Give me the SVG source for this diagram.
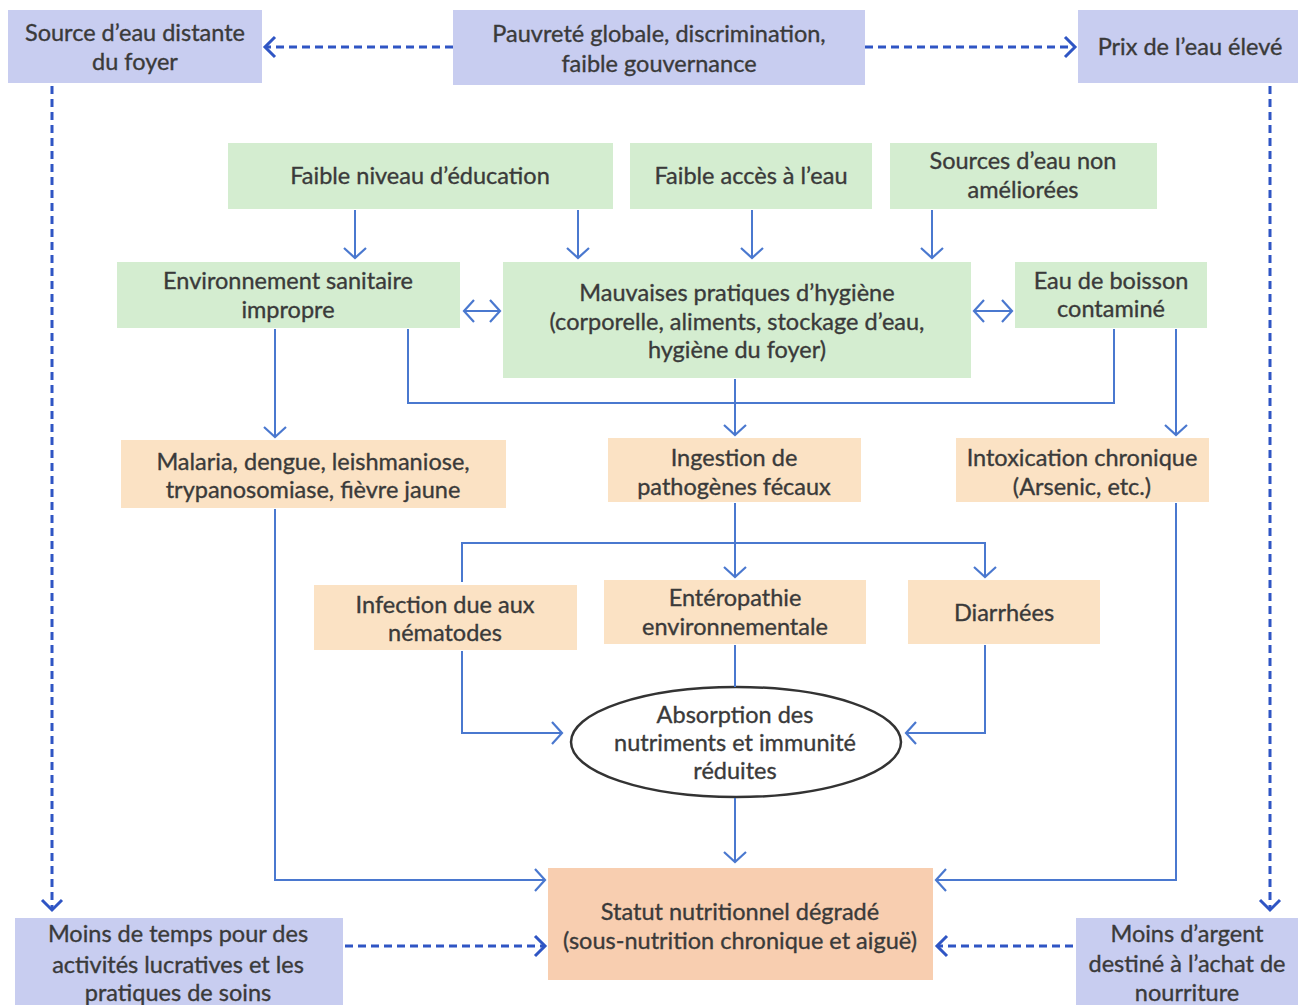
<svg xmlns="http://www.w3.org/2000/svg" width="1298" height="1005" viewBox="0 0 1298 1005">
<style>
text{font-family:Lato,"Liberation Sans",sans-serif;font-size:23.5px;fill:#3a3a3a;stroke:#3a3a3a;stroke-width:0.35;text-anchor:middle}
.p{fill:#c8cdf0}
.g{fill:#d4edd0}
.o{fill:#fbe2c4}
.s{fill:#f8ceb0}
.c{fill:none;stroke:#4a78cf;stroke-width:2}
.d{fill:none;stroke:#2f55c4;stroke-width:3;stroke-dasharray:8 5}
</style>
<defs>
<marker id="a" markerUnits="userSpaceOnUse" markerWidth="16" markerHeight="26" refX="12" refY="12" orient="auto-start-reverse" viewBox="0 0 16 24">
<path d="M2,1 L12,12 L2,23" fill="none" stroke="#4a78cf" stroke-width="2.2"/>
</marker>
<marker id="b" markerUnits="userSpaceOnUse" markerWidth="16" markerHeight="26" refX="12" refY="12" orient="auto-start-reverse" viewBox="0 0 16 24">
<path d="M2,2 L12,12 L2,22" fill="none" stroke="#2f55c4" stroke-width="3"/>
</marker>
</defs>
<rect width="1298" height="1005" fill="#ffffff"/>
<g id="n1"><rect class="p" x="8" y="10" width="254" height="73"/><text x="135" y="41">Source d’eau distante</text><text x="135" y="70">du foyer</text></g>
<g id="n2"><rect class="p" x="453" y="10" width="412" height="75"/><text x="659" y="42">Pauvreté globale, discrimination,</text><text x="659" y="72">faible gouvernance</text></g>
<g id="n3"><rect class="p" x="1078" y="10" width="220" height="73"/><text x="1190" y="55">Prix de l’eau élevé</text></g>
<g id="n4"><rect class="g" x="228" y="143" width="385" height="66"/><text x="420" y="184">Faible niveau d’éducation</text></g>
<g id="n5"><rect class="g" x="630" y="143" width="242" height="66"/><text x="751" y="184">Faible accès à l’eau</text></g>
<g id="n6"><rect class="g" x="890" y="143" width="267" height="66"/><text x="1023" y="169">Sources d’eau non</text><text x="1023" y="198">améliorées</text></g>
<g id="n7"><rect class="g" x="117" y="262" width="343" height="66"/><text x="288" y="289">Environnement sanitaire</text><text x="288" y="318">impropre</text></g>
<g id="n8"><rect class="g" x="503" y="262" width="468" height="116"/><text x="737" y="301">Mauvaises pratiques d’hygiène</text><text x="737" y="330">(corporelle, aliments, stockage d’eau,</text><text x="737" y="358">hygiène du foyer)</text></g>
<g id="n9"><rect class="g" x="1015" y="262" width="192" height="66"/><text x="1111" y="289">Eau de boisson</text><text x="1111" y="317">contaminé</text></g>
<g id="n10"><rect class="o" x="121" y="440" width="385" height="68"/><text x="313" y="470">Malaria, dengue, leishmaniose,</text><text x="313" y="498">trypanosomiase, fièvre jaune</text></g>
<g id="n11"><rect class="o" x="608" y="438" width="253" height="64"/><text x="734" y="466">Ingestion de</text><text x="734" y="495">pathogènes fécaux</text></g>
<g id="n12"><rect class="o" x="956" y="438" width="253" height="64"/><text x="1082" y="466">Intoxication chronique</text><text x="1082" y="495">(Arsenic, etc.)</text></g>
<g id="n13"><rect class="o" x="314" y="585" width="263" height="65"/><text x="445" y="613">Infection due aux</text><text x="445" y="641">nématodes</text></g>
<g id="n14"><rect class="o" x="604" y="580" width="262" height="64"/><text x="735" y="606">Entéropathie</text><text x="735" y="635">environnementale</text></g>
<g id="n15"><rect class="o" x="908" y="580" width="192" height="64"/><text x="1004" y="621">Diarrhées</text></g>
<g id="n16"><ellipse cx="736" cy="742" rx="165" ry="55" fill="#ffffff" stroke="#333333" stroke-width="2.5"/><text x="735" y="723">Absorption des</text><text x="735" y="751">nutriments et immunité</text><text x="735" y="779">réduites</text></g>
<g id="n17"><rect class="s" x="548" y="868" width="385" height="112"/><text x="740" y="920">Statut nutritionnel dégradé</text><text x="740" y="949">(sous-nutrition chronique et aiguë)</text></g>
<g id="n18"><rect class="p" x="15" y="918" width="328" height="87"/><text x="178" y="942">Moins de temps pour des</text><text x="178" y="973">activités lucratives et les</text><text x="178" y="1001">pratiques de soins</text></g>
<g id="n19"><rect class="p" x="1076" y="918" width="222" height="87"/><text x="1187" y="942">Moins d’argent</text><text x="1187" y="972">destiné à l’achat de</text><text x="1187" y="1001">nourriture</text></g>
<g id="connectors">
<path class="d" d="M453,47 H265" marker-end="url(#b)"/>
<path class="d" d="M865,47 H1075" marker-end="url(#b)"/>
<path class="d" d="M52,86 V910" marker-end="url(#b)"/>
<path class="d" d="M1270,86 V910" marker-end="url(#b)"/>
<path class="d" d="M345,946 H545" marker-end="url(#b)"/>
<path class="d" d="M1073,946 H937" marker-end="url(#b)"/>
<path class="c" d="M355,210 V258" marker-end="url(#a)"/>
<path class="c" d="M578,210 V258" marker-end="url(#a)"/>
<path class="c" d="M752,210 V258" marker-end="url(#a)"/>
<path class="c" d="M932,210 V258" marker-end="url(#a)"/>
<path class="c" d="M464,311 H500" marker-start="url(#a)" marker-end="url(#a)"/>
<path class="c" d="M974,311 H1012" marker-start="url(#a)" marker-end="url(#a)"/>
<path class="c" d="M275,329 V437" marker-end="url(#a)"/>
<path class="c" d="M408,329 V403 H1114 V329"/>
<path class="c" d="M735,379 V435" marker-end="url(#a)"/>
<path class="c" d="M1176,329 V435" marker-end="url(#a)"/>
<path class="c" d="M275,509 V880 H545" marker-end="url(#a)"/>
<path class="c" d="M1176,503 V880 H936" marker-end="url(#a)"/>
<path class="c" d="M735,503 V577" marker-end="url(#a)"/>
<path class="c" d="M462,582 V543 H985 V577" marker-end="url(#a)"/>
<path class="c" d="M462,651 V733 H562" marker-end="url(#a)"/>
<path class="c" d="M735,645 V687"/>
<path class="c" d="M985,645 V733 H906" marker-end="url(#a)"/>
<path class="c" d="M735,798 V862" marker-end="url(#a)"/>
</g>
</svg>
